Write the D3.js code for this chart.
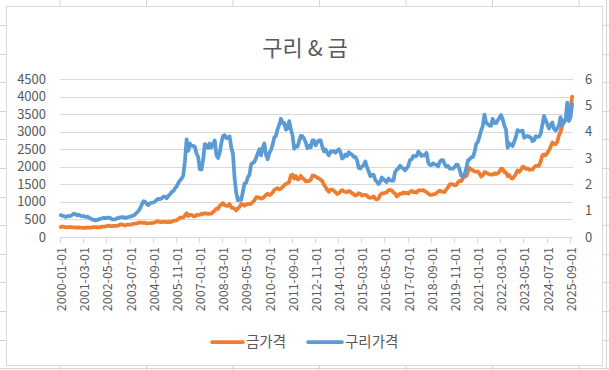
<!DOCTYPE html>
<html>
<head>
<meta charset="utf-8">
<script src="https://cdnjs.cloudflare.com/ajax/libs/d3/7.8.5/d3.min.js"></script>
<style>
  body { margin: 0; background: #fff; }
  text { font-family: "Noto Sans CJK KR", "Noto Sans", sans-serif; fill: #595959; }
</style>
</head>
<body>
<div id="chart"></div>
<script type="text/javascript">
  const width = 609,
    height = 370;

  const title = "구리 & 금";
  const seriesNames = ["금가격", "구리가격"];
  const colors = ["#ED7D31", "#5B9BD5"];

  // monthly, 2000-01 .. 2025-10
  const gold = [
    284, 300, 286, 280, 275, 286, 282, 274, 273, 270, 266, 272,
    265, 262, 263, 261, 272, 270, 268, 273, 283, 283, 276, 276,
    282, 296, 294, 303, 314, 321, 313, 310, 319, 317, 319, 333,
    357, 359, 340, 328, 355, 356, 351, 360, 379, 379, 390, 407,
    414, 405, 406, 404, 384, 392, 398, 400, 405, 420, 439, 442,
    424, 423, 434, 429, 423, 430, 424, 438, 456, 470, 476, 510,
    549, 555, 557, 610, 676, 596, 633, 632, 598, 585, 627, 629,
    631, 665, 655, 679, 667, 655, 665, 665, 712, 754, 806, 803,
    889, 922, 968, 909, 888, 889, 939, 839, 829, 806, 760, 816,
    858, 943, 924, 890, 928, 946, 934, 949, 996, 1043, 1127, 1135,
    1118, 1095, 1114, 1149, 1205, 1232, 1193, 1215, 1271, 1343, 1370, 1392,
    1356, 1372, 1424, 1474, 1512, 1529, 1573, 1756, 1772, 1666, 1739, 1641,
    1656, 1742, 1674, 1650, 1585, 1596, 1594, 1630, 1745, 1747, 1722, 1684,
    1671, 1627, 1593, 1487, 1414, 1343, 1286, 1352, 1348, 1316, 1276, 1225,
    1244, 1300, 1336, 1299, 1287, 1279, 1311, 1296, 1239, 1222, 1176, 1201,
    1251, 1227, 1179, 1198, 1199, 1181, 1128, 1117, 1125, 1157, 1087, 1068,
    1097, 1200, 1246, 1242, 1260, 1276, 1337, 1341, 1326, 1267, 1238, 1157,
    1192, 1234, 1231, 1267, 1246, 1260, 1237, 1283, 1315, 1280, 1283, 1265,
    1331, 1331, 1325, 1335, 1304, 1281, 1238, 1201, 1198, 1215, 1221, 1250,
    1291, 1320, 1300, 1285, 1283, 1359, 1413, 1500, 1510, 1495, 1470, 1480,
    1560, 1597, 1592, 1683, 1715, 1732, 1847, 1968, 1921, 1900, 1866, 1858,
    1867, 1808, 1718, 1760, 1850, 1834, 1807, 1785, 1776, 1777, 1821, 1790,
    1817, 1856, 1948, 1937, 1849, 1837, 1733, 1764, 1681, 1665, 1725, 1798,
    1898, 1855, 1913, 2000, 1991, 1943, 1951, 1918, 1916, 1916, 1985, 2027,
    2034, 2023, 2159, 2331, 2348, 2327, 2397, 2470, 2571, 2690, 2651, 2648,
    2709, 2895, 2984, 3193, 3288, 3352, 3340, 3368, 3665, 4000
  ];

  const copper = [
    0.83, 0.81, 0.79, 0.76, 0.79, 0.79, 0.81, 0.84, 0.89, 0.86, 0.82, 0.84,
    0.80, 0.79, 0.79, 0.76, 0.77, 0.74, 0.70, 0.67, 0.65, 0.63, 0.65, 0.67,
    0.69, 0.71, 0.73, 0.72, 0.73, 0.74, 0.72, 0.67, 0.67, 0.67, 0.72, 0.72,
    0.75, 0.76, 0.75, 0.72, 0.75, 0.76, 0.78, 0.80, 0.81, 0.87, 0.93, 0.99,
    1.10, 1.24, 1.36, 1.34, 1.25, 1.21, 1.29, 1.30, 1.31, 1.35, 1.42, 1.45,
    1.44, 1.47, 1.53, 1.53, 1.47, 1.57, 1.62, 1.71, 1.74, 1.85, 1.92, 2.05,
    2.15, 2.22, 2.33, 2.88, 3.71, 3.27, 3.55, 3.46, 3.46, 3.42, 3.17, 3.04,
    2.57, 2.57, 2.93, 3.53, 3.49, 3.38, 3.55, 3.40, 3.52, 3.67, 3.12, 3.00,
    3.20, 3.57, 3.84, 3.87, 3.75, 3.78, 3.82, 3.40, 3.17, 2.23, 1.67, 1.39,
    1.46, 1.41, 1.71, 2.03, 2.06, 2.27, 2.36, 2.76, 2.81, 2.86, 3.00, 3.17,
    3.33, 3.10, 3.40, 3.55, 3.12, 2.95, 3.19, 3.31, 3.50, 3.78, 3.84, 4.10,
    4.27, 4.49, 4.33, 4.33, 4.08, 4.12, 4.40, 4.09, 3.87, 3.35, 3.45, 3.43,
    3.64, 3.84, 3.83, 3.73, 3.60, 3.37, 3.47, 3.40, 3.67, 3.67, 3.48, 3.60,
    3.67, 3.67, 3.43, 3.25, 3.32, 3.19, 3.10, 3.25, 3.24, 3.26, 3.20, 3.27,
    3.33, 3.22, 2.98, 3.03, 3.13, 3.08, 3.22, 3.16, 3.13, 3.04, 3.04, 2.91,
    2.63, 2.60, 2.68, 2.73, 2.87, 2.65, 2.49, 2.31, 2.36, 2.36, 2.17, 2.09,
    2.01, 2.09, 2.26, 2.20, 2.12, 2.09, 2.22, 2.16, 2.14, 2.14, 2.47, 2.56,
    2.60, 2.71, 2.64, 2.60, 2.53, 2.61, 2.71, 2.92, 2.95, 3.08, 3.06, 3.08,
    3.24, 3.18, 3.08, 3.11, 3.10, 3.20, 2.83, 2.74, 2.73, 2.80, 2.76, 2.75,
    2.68, 2.85, 2.92, 2.92, 2.76, 2.67, 2.70, 2.60, 2.60, 2.60, 2.66, 2.75,
    2.73, 2.55, 2.33, 2.29, 2.38, 2.61, 2.91, 2.95, 3.03, 3.03, 3.22, 3.53,
    3.61, 3.81, 4.05, 4.22, 4.65, 4.34, 4.29, 4.23, 4.22, 4.49, 4.33, 4.32,
    4.42, 4.53, 4.63, 4.47, 4.23, 4.08, 3.39, 3.56, 3.50, 3.45, 3.62, 3.80,
    4.06, 4.01, 4.02, 4.04, 3.77, 3.81, 3.84, 3.80, 3.78, 3.64, 3.67, 3.83,
    3.80, 3.81, 3.93, 4.27, 4.60, 4.43, 4.28, 4.12, 4.25, 4.35, 4.11, 4.04,
    4.12, 4.25, 4.55, 4.25, 4.35, 4.45, 5.10, 4.40, 4.55, 5.05
  ];

  const tickLabels = ["2000-01-01", "2001-03-01", "2002-05-01", "2003-07-01", "2004-09-01",
    "2005-11-01", "2007-01-01", "2008-03-01", "2009-05-01", "2010-07-01", "2011-09-01",
    "2012-11-01", "2014-01-01", "2015-03-01", "2016-05-01", "2017-07-01", "2018-09-01",
    "2019-11-01", "2021-01-01", "2022-03-01", "2023-05-01", "2024-07-01", "2025-09-01"];
  const leftTicks = [0, 500, 1000, 1500, 2000, 2500, 3000, 3500, 4000, 4500];
  const rightTicks = [0, 1, 2, 3, 4, 5, 6];

  // category labels yyyy-mm-01
  var months = [];
  for (var i = 0; i < gold.length; i++) {
    var y = 2000 + Math.floor(i / 12), m = i % 12 + 1;
    months.push(y + "-" + (m < 10 ? "0" + m : m) + "-01");
  }

  const svg = d3.select("#chart").append("svg")
    .attr("width", width)
    .attr("height", height);

  // spreadsheet grid behind the chart
  const sheet = svg.append("g");
  [60, 146.5, 233, 319.5, 406, 492.5, 579].forEach(function(x) {
    sheet.append("line").attr("x1", x).attr("x2", x).attr("y1", 0).attr("y2", height)
      .style("stroke", "#D4D4D4");
  });
  for (var r = 25; r < height; r += 28.6) {
    sheet.append("line").attr("x1", 0).attr("x2", width).attr("y1", Math.round(r) + 0.5).attr("y2", Math.round(r) + 0.5)
      .style("stroke", "#D4D4D4");
  }
  sheet.append("line").attr("x1", 606.5).attr("x2", 606.5).attr("y1", 0).attr("y2", height)
    .style("stroke", "#D4D4D4");

  svg.append("rect")
    .attr("x", 6.5).attr("y", 6.5)
    .attr("width", 596).attr("height", 359)
    .style("fill", "#fff")
    .style("stroke", "#D9D9D9");

  const x = d3.scaleBand()
    .domain(months)
    .range([60, 573]);

  const yLeft = d3.scaleLinear()
    .domain([0, 4500])
    .range([237, 79]);

  const yRight = d3.scaleLinear()
    .domain([0, 6])
    .range([237, 79]);

  // gridlines
  svg.append("g").selectAll("line")
    .data(leftTicks)
    .enter().append("line")
    .attr("x1", 60).attr("x2", 573)
    .attr("y1", function(d) { return Math.round(yLeft(d)) + 0.5; })
    .attr("y2", function(d) { return Math.round(yLeft(d)) + 0.5; })
    .style("stroke", "#D9D9D9")
    .style("stroke-width", "1.2px");

  // left axis labels
  svg.append("g").selectAll("text")
    .data(leftTicks)
    .enter().append("text")
    .attr("x", 46)
    .attr("y", function(d) { return yLeft(d); })
    .attr("dy", "0.35em")
    .attr("text-anchor", "end")
    .style("font-size", "13px")
    .text(function(d) { return d; });

  // right axis labels
  svg.append("g").selectAll("text")
    .data(rightTicks)
    .enter().append("text")
    .attr("x", 585)
    .attr("y", function(d) { return yRight(d); })
    .attr("dy", "0.35em")
    .style("font-size", "13px")
    .text(function(d) { return d; });

  // category ticks + rotated labels
  const xticks = svg.append("g");
  tickLabels.forEach(function(lab) {
    var tx = Math.round(x(lab)) + 0.5;
    xticks.append("line")
      .attr("x1", tx).attr("x2", tx).attr("y1", 237).attr("y2", 243)
      .style("stroke", "#D9D9D9")
      .style("stroke-width", "1.2px");
    xticks.append("text")
      .attr("transform", "translate(" + (tx + 1) + ",247) rotate(-90)")
      .attr("dy", "0.35em")
      .attr("text-anchor", "end")
      .style("font-size", "12.5px")
      .text(lab);
  });

  const lineGold = d3.line()
    .x(function(d, i) { return x(months[i]) + x.bandwidth() / 2; })
    .y(function(d) { return yLeft(d); });

  const lineCopper = d3.line()
    .x(function(d, i) { return x(months[i]) + x.bandwidth() / 2; })
    .y(function(d) { return yRight(d); });

  svg.append("path")
    .datum(gold)
    .attr("d", lineGold)
    .style("fill", "none")
    .style("stroke", colors[0])
    .style("stroke-width", "3.75px")
    .style("stroke-linejoin", "round")
    .style("stroke-linecap", "round");

  svg.append("path")
    .datum(copper)
    .attr("d", lineCopper)
    .style("fill", "none")
    .style("stroke", colors[1])
    .style("stroke-width", "3.75px")
    .style("stroke-linejoin", "round")
    .style("stroke-linecap", "round");

  // title
  svg.append("text")
    .attr("x", 305)
    .attr("y", 56)
    .attr("text-anchor", "middle")
    .style("font-size", "22px")
    .text(title);

  // legend
  const legend = svg.append("g");
  [[212, 243, 246], [308, 342, 345]].forEach(function(p, i) {
    legend.append("line")
      .attr("x1", p[0]).attr("x2", p[1]).attr("y1", 342).attr("y2", 342)
      .style("stroke", colors[i])
      .style("stroke-width", "3.75px")
      .style("stroke-linecap", "round");
    legend.append("text")
      .attr("x", p[2])
      .attr("y", 342)
      .attr("dy", "0.35em")
      .style("font-size", "14.5px")
      .text(seriesNames[i]);
  });
</script>
</body>
</html>
